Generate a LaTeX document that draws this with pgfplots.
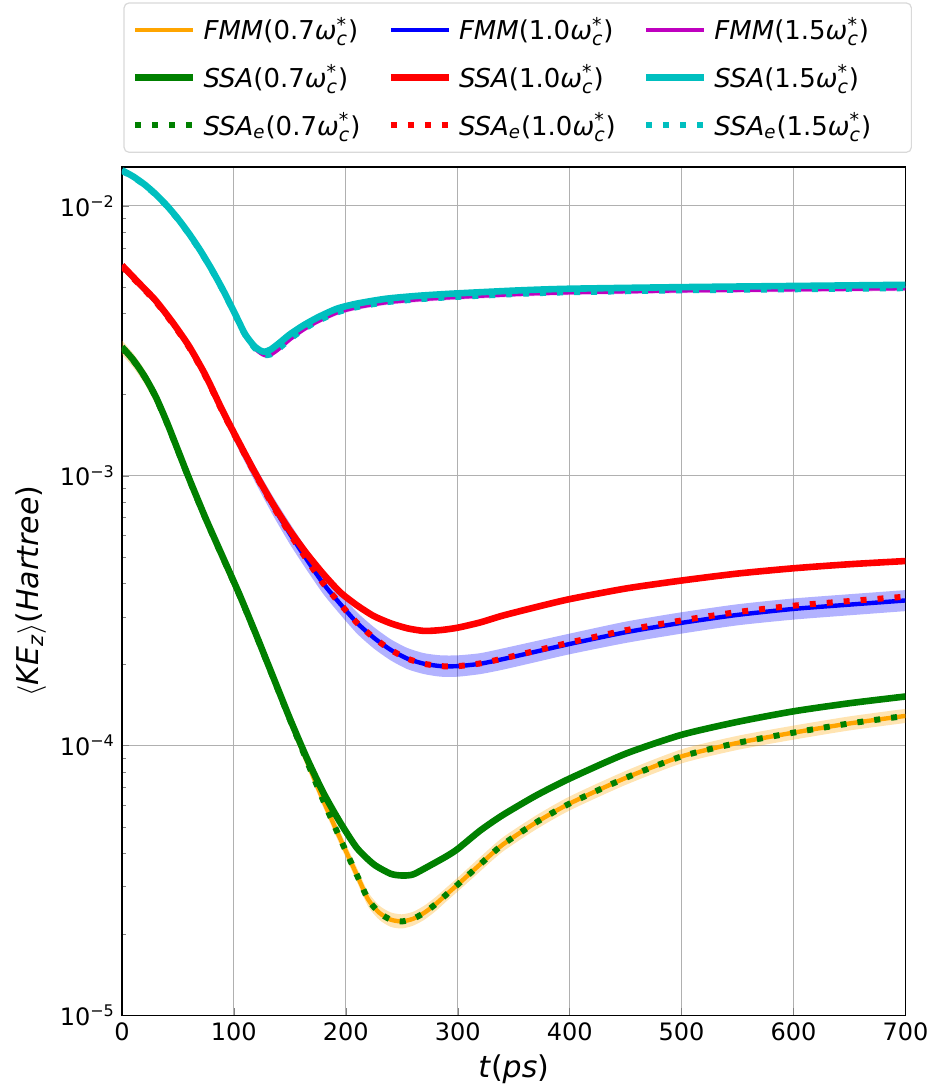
\documentclass[border=0pt]{standalone}
\usepackage{fontspec}
\setmainfont{DejaVu Sans}
\usepackage{pgfplots}
\pgfplotsset{compat=1.18}
\usepackage{pgfplotstable}
\usepgfplotslibrary{fillbetween}

\definecolor{mplorange}{RGB}{255,165,0}
\definecolor{mplgreen}{RGB}{0,128,0}
\definecolor{mplcyan}{RGB}{0,191,191}
\definecolor{mplmag}{RGB}{191,0,191}
\definecolor{mplblue}{RGB}{0,0,255}
\definecolor{mplred}{RGB}{255,0,0}

\newcommand{\wc}{\textit{ω}\ensuremath{^{\mbox{\fontsize{9.5}{10}\selectfont *}}_{\mbox{\fontsize{9.5}{10}\selectfont\itshape c}}}}
\newcommand{\lent}[1]{\hspace*{1.5pt}\makebox[87.5pt][l]{#1}}
\newcommand{\lentw}[1]{\hspace*{1.5pt}\makebox[92.5pt][l]{#1}}

% omega = 0.7 : FMM (orange) with band, SSA_e (green dotted)
\pgfplotstableread{
t fmm lo hi ssae
0 0.002985 0.002812 0.003170 0.002985
10 0.002679 0.002524 0.002845 0.002679
20 0.002332 0.002197 0.002477 0.002332
30 0.001962 0.001848 0.002084 0.001962
40 0.001577 0.001486 0.001675 0.001577
50 0.001239 0.001167 0.001316 0.001239
60 0.000972 0.000916 0.001032 0.000972
75 0.000689 0.000649 0.000732 0.000689
90 0.000498 0.000469 0.000529 0.000498
105 0.000361 0.000340 0.000383 0.000361
120 0.000256 0.000241 0.000272 0.000256
135 0.000179 0.0001686 0.000190 0.000179
150 0.000125 0.0001178 0.0001328 0.000125
165 8.81e-5 8.30e-5 9.36e-5 8.81e-5
180 6.24e-5 5.88e-5 6.63e-5 6.24e-5
195 4.52e-5 4.26e-5 4.80e-5 4.52e-5
210 3.31e-5 3.12e-5 3.52e-5 3.31e-5
220 2.69e-5 2.53e-5 2.86e-5 2.69e-5
230 2.40e-5 2.26e-5 2.55e-5 2.40e-5
240 2.265e-5 2.13e-5 2.41e-5 2.265e-5
250 2.23e-5 2.10e-5 2.37e-5 2.23e-5
260 2.28e-5 2.15e-5 2.42e-5 2.28e-5
270 2.40e-5 2.26e-5 2.55e-5 2.40e-5
280 2.58e-5 2.43e-5 2.74e-5 2.58e-5
290 2.81e-5 2.65e-5 2.98e-5 2.81e-5
300 3.055e-5 2.88e-5 3.24e-5 3.055e-5
320 3.63e-5 3.42e-5 3.86e-5 3.63e-5
340 4.29e-5 4.04e-5 4.56e-5 4.29e-5
370 5.19e-5 4.89e-5 5.51e-5 5.19e-5
400 6.10e-5 5.75e-5 6.48e-5 6.10e-5
450 7.59e-5 7.15e-5 8.06e-5 7.59e-5
500 9.12e-5 8.59e-5 9.69e-5 9.12e-5
550 1.0233e-4 9.64e-5 1.087e-4 1.0233e-4
600 1.1169e-4 1.052e-4 1.186e-4 1.1169e-4
650 1.2078e-4 1.138e-4 1.283e-4 1.2078e-4
700 1.2882e-4 1.213e-4 1.368e-4 1.2882e-4
}\tabA

% omega = 0.7 : SSA (green solid)
\pgfplotstableread{
t ssa
0 0.003000
10 0.002692
20 0.002344
30 0.001972
40 0.001585
50 0.001245
60 0.000977
75 0.000692
90 0.000501
105 0.000363
120 0.000257
135 0.000180
150 0.000126
165 9.02e-5
180 6.68e-5
195 5.19e-5
210 4.17e-5
225 3.63e-5
240 3.35e-5
250 3.30e-5
260 3.33e-5
275 3.59e-5
290 3.89e-5
300 4.14e-5
320 4.84e-5
340 5.52e-5
370 6.53e-5
400 7.55e-5
450 9.33e-5
500 1.0965e-4
550 1.2246e-4
600 1.3397e-4
650 1.4355e-4
700 1.5205e-4
}\tabAs

% omega = 1.0 : FMM (blue) with band, SSA (red), SSA_e (red dotted)
\pgfplotstableread{
t fmm lo hi ssa ssae
0 0.005966 0.005829 0.006103 0.006026 0.005966
15 0.005136 0.005018 0.005254 0.005188 0.005136
30 0.004422 0.004320 0.004524 0.004467 0.004422
45 0.003678 0.003593 0.003763 0.003715 0.003678
60 0.002990 0.002921 0.003059 0.003020 0.002990
75 0.002320 0.002241 0.002401 0.002344 0.002320
90 0.001721 0.001644 0.001802 0.001738 0.001721
105 0.001305 0.001232 0.001382 0.001318 0.001305
120 0.000997 0.000930 0.001069 0.001007 0.000997
135 0.000772 0.000713 0.000837 0.000785 0.000772
150 0.000610 0.000558 0.000667 0.000627 0.000610
165 0.000490 0.000448 0.000536 0.000515 0.000490
180 0.000398 0.000364 0.000435 0.000432 0.000398
195 0.000335 0.000306 0.000366 0.000370 0.000335
210 0.000285 0.000260 0.000312 0.000331 0.000285
225 0.000251 0.000229 0.000275 0.000302 0.000251
240 0.0002265 0.000207 0.000248 0.000284 0.0002265
255 0.000210 0.000192 0.000230 0.000272 0.000210
270 0.000201 0.000184 0.000220 0.000266 0.000201
285 0.000197 0.000180 0.000216 0.000268 0.000197
300 0.000197 0.000180 0.000216 0.0002735 0.000197
320 0.000201 0.000184 0.000220 0.000286 0.0002016
340 0.000209 0.000191 0.000229 0.000303 0.000210
370 0.000223 0.000204 0.000244 0.000326 0.0002248
400 0.000238 0.000218 0.000260 0.000349 0.0002409
450 0.000263 0.000240 0.000288 0.000382 0.0002675
500 0.000285 0.000260 0.000312 0.000409 0.000291
550 0.000305 0.000279 0.000334 0.000434 0.0003126
600 0.000321 0.000293 0.000351 0.000454 0.000330
650 0.000333 0.000304 0.000364 0.000470 0.0003433
700 0.000345 0.000315 0.000377 0.000483 0.0003564
}\tabB

% omega = 1.5 : FMM (magenta) with band, SSA (cyan), SSA_e (cyan dotted)
\pgfplotstableread{
t fmm lo hi ssa ssae
0 0.01348 0.01317 0.01379 0.01355 0.01348
10 0.012793 0.012499 0.013087 0.012857 0.012793
20 0.011963 0.011688 0.012238 0.012023 0.011963
30 0.011015 0.010762 0.011268 0.011070 0.011015
40 0.009991 0.009761 0.010221 0.010041 0.009991
50 0.008923 0.008718 0.009128 0.008968 0.008923
60 0.007849 0.007668 0.008030 0.007888 0.007849
70 0.006805 0.006648 0.006962 0.006839 0.006805
80 0.005808 0.005674 0.005942 0.005837 0.005808
90 0.004883 0.004771 0.004995 0.004908 0.004883
100 0.004044 0.003951 0.004137 0.004064 0.004044
110 0.003330 0.003253 0.003407 0.003350 0.003330
118 0.002992 0.002923 0.003061 0.003030 0.002992
124 0.002851 0.002785 0.002917 0.002904 0.002851
128 0.002799 0.002735 0.002863 0.002884 0.002799
133 0.002818 0.002753 0.002883 0.002938 0.002818
140 0.002951 0.002883 0.003019 0.003090 0.002951
150 0.003206 0.003132 0.003280 0.003342 0.003206
162 0.003483 0.003403 0.003563 0.003606 0.003483
175 0.003741 0.003655 0.003827 0.003864 0.003741
192 0.004027 0.003934 0.004120 0.004159 0.004027
210 0.004217 0.004120 0.004314 0.004345 0.004217
236 0.004395 0.004294 0.004496 0.004529 0.004395
265 0.004508 0.004404 0.004612 0.004645 0.004508
296 0.004592 0.004486 0.004698 0.004732 0.004592
355 0.004721 0.004612 0.004830 0.004864 0.004721
400 0.004786 0.004676 0.004896 0.004932 0.004786
500 0.004864 0.004752 0.004976 0.005000 0.004864
600 0.004909 0.004796 0.005022 0.005050 0.004909
700 0.004955 0.004841 0.005069 0.005100 0.004955
}\tabC

\begin{document}
\begin{tikzpicture}
\begin{axis}[
  scale only axis, width=392pt, height=424.5pt,
  ymode=log, xmin=0, xmax=700, ymin=1e-5, ymax=0.01395,
  xtick={0,100,200,300,400,500,600,700},
  xticklabels={0,100,200,300,400,500,600,700},
  ytick={1e-5,1e-4,1e-3,1e-2},
  yticklabels={10\textsuperscript{−5},10\textsuperscript{−4},10\textsuperscript{−3},10\textsuperscript{−2}},
  tick label style={font=\fontsize{12}{14}\selectfont},
  grid=major, major grid style={color=black!31, line width=0.5pt},
  tick align=inside, tick pos=left,
  major tick length=3.5pt, minor tick length=2pt,
  axis line style={line width=0.8pt},
  xlabel={\textit{t}(\textit{ps})},
  ylabel={$\langle$\textit{KE}\textsubscript{\textit{z}}$\rangle$(\textit{Hartree})},
  label style={font=\fontsize{15}{18}\selectfont},
  legend columns=3,
  legend style={at={(0.5,1)}, anchor=south, yshift=7pt, xshift=2pt, draw=black!15,
    rounded corners=2.5pt, line width=0.6pt, font=\fontsize{13}{15}\selectfont,
    inner xsep=4pt, inner ysep=5pt, row sep=7pt,
    /tikz/every even column/.append style={column sep=2.5pt},
    cells={anchor=west}},
  legend image code/.code={\draw[#1] (0pt,0pt) -- (29pt,0pt);},
  fmmline/.style={line width=2.2pt, line join=round, smooth, tension=0.4},
  ssaline/.style={line width=3.3pt, line join=round, smooth, tension=0.4},
  dotline/.style={line width=3pt, dash pattern=on 3pt off 5.5pt, smooth, tension=0.4},
  bandb/.style={draw=none, forget plot, smooth, tension=0.4},
]
% uncertainty bands
\addplot[bandb, name path=ah] table[x=t,y=hi]{\tabA};
\addplot[bandb, name path=al] table[x=t,y=lo]{\tabA};
\addplot[fill=mplorange, fill opacity=0.3, draw=none, forget plot] fill between[of=ah and al];
\addplot[bandb, name path=bh] table[x=t,y=hi]{\tabB};
\addplot[bandb, name path=bl] table[x=t,y=lo]{\tabB};
\addplot[fill=mplblue, fill opacity=0.3, draw=none, forget plot] fill between[of=bh and bl];
\addplot[bandb, name path=ch] table[x=t,y=hi]{\tabC};
\addplot[bandb, name path=cl] table[x=t,y=lo]{\tabC};
\addplot[fill=mplmag, fill opacity=0.3, draw=none, forget plot] fill between[of=ch and cl];
% FMM
\addplot[mplorange, fmmline] table[x=t,y=fmm]{\tabA};
\addlegendentry{\lent{\textit{FMM}(0.7\wc)}}
\addplot[mplblue, fmmline] table[x=t,y=fmm]{\tabB};
\addlegendentry{\lent{\textit{FMM}(1.0\wc)}}
\addplot[mplmag, fmmline] table[x=t,y=fmm]{\tabC};
\addlegendentry{\lentw{\textit{FMM}(1.5\wc)}}
% SSA
\addplot[mplgreen, ssaline] table[x=t,y=ssa]{\tabAs};
\addlegendentry{\lent{\textit{SSA}(0.7\wc)}}
\addplot[mplred, ssaline] table[x=t,y=ssa]{\tabB};
\addlegendentry{\lent{\textit{SSA}(1.0\wc)}}
\addplot[mplcyan, ssaline] table[x=t,y=ssa]{\tabC};
\addlegendentry{\lentw{\textit{SSA}(1.5\wc)}}
% SSA_e
\addplot[mplgreen, dotline] table[x=t,y=ssae]{\tabA};
\addlegendentry{\lent{\textit{SSA}\textsubscript{\textit{e}}(0.7\wc)}}
\addplot[mplred, dotline] table[x=t,y=ssae]{\tabB};
\addlegendentry{\lent{\textit{SSA}\textsubscript{\textit{e}}(1.0\wc)}}
\addplot[mplcyan, dotline] table[x=t,y=ssae]{\tabC};
\addlegendentry{\lentw{\textit{SSA}\textsubscript{\textit{e}}(1.5\wc)}}
\end{axis}
\path (-61pt,-37pt) rectangle (406.5pt,508pt);
\end{tikzpicture}
\end{document}
